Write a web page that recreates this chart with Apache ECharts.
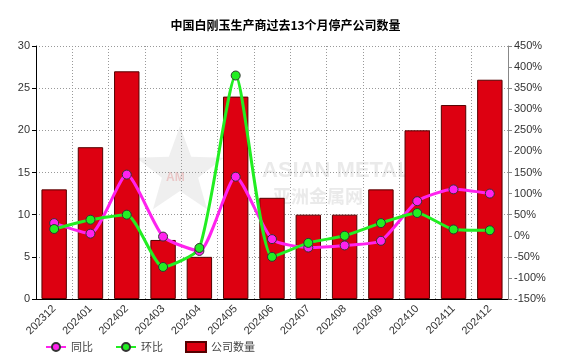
<!DOCTYPE html>
<html><head><meta charset="utf-8">
<script src="https://cdn.jsdelivr.net/npm/echarts@6/dist/echarts.min.js"></script>
<style>html,body{margin:0;padding:0;background:#fff}#c{width:571px;height:362px}</style>
</head><body><div id="c"></div>
<script>
const categories = ['202312','202401','202402','202403','202404','202405','202406','202407','202408','202409','202410','202411','202412'];
const companyCount = [13,18,27,7,5,24,12,10,10,13,20,23,26];
const yoy = [30,5,145,-2,-36,140,-8,-28,-23,-12,82,110,100];
const mom = [16,38,50,-74,-29,380,-50,-17,0,30,54,15,13];
const leftTicks = [0,5,10,15,20,25,30];
const rightTicks = [-150,-100,-50,0,50,100,150,200,250,300,350,400,450];

function starPoints(cx, cy, R, r){
  const pts=[];
  for(let i=0;i<10;i++){
    const a = -Math.PI/2 + i*Math.PI/5;
    const rad = i%2===0 ? R : r;
    pts.push([cx+rad*Math.cos(a), cy+rad*Math.sin(a)]);
  }
  return pts;
}

const chart = echarts.init(document.getElementById('c'));
const font = '"Liberation Sans", Arial, sans-serif';
chart.setOption({
  animation:false,
  title:{text:'中国白刚玉生产商过去13个月停产公司数量',left:'center',top:14,
    textStyle:{fontSize:12,fontWeight:'bold',color:'#000',fontFamily:'"Noto Sans CJK SC", sans-serif'}},
  grid:{left:36,right:63,top:46,bottom:63},
  legend:{bottom:4,left:40,itemGap:22,itemWidth:20,itemHeight:10,
    textStyle:{fontSize:11,color:'#444',fontFamily:'"Noto Sans CJK SC", sans-serif'},
    data:[{name:'同比'},{name:'环比'},{name:'公司数量',icon:'rect'}]},
  graphic:[
    {type:'polygon',z:-1,shape:{points:starPoints(180,172,46,19)},style:{fill:'rgba(190,190,190,0.25)'}},
    {type:'text',left:166,top:172,z:-1,style:{text:'AM',fill:'rgba(220,80,80,0.25)',font:'bold 12px "Liberation Sans", Arial'}},
    {type:'text',left:262,top:160,z:-1,style:{text:'ASIAN METAL',fill:'rgba(170,170,170,0.25)',font:'bold 22px "Liberation Sans", Arial'}},
    {type:'text',left:273,top:187,z:-1,style:{text:'亚洲金属网',fill:'rgba(170,170,170,0.25)',font:'bold 18px "Noto Sans CJK SC"'}}
  ],
  xAxis:{type:'category',data:categories,
    axisLine:{lineStyle:{color:'#000'}},
    axisTick:{alignWithLabel:true,length:4,lineStyle:{color:'#000'}},
    axisLabel:{rotate:45,fontSize:11,color:'#333',margin:8,fontFamily:font},
    splitLine:{show:true,lineStyle:{color:'#999',type:[1,2]}}},
  yAxis:[
    {type:'value',min:0,max:30,interval:5,
     axisLine:{show:true,lineStyle:{color:'#000'}},
     axisTick:{show:true,length:4,lineStyle:{color:'#000'}},
     axisLabel:{fontSize:11,color:'#333',margin:6,fontFamily:font},
     splitLine:{show:true,lineStyle:{color:'#999',type:[1,2]}}},
    {type:'value',min:-150,max:450,interval:50,
     axisLine:{show:true,lineStyle:{color:'#888'}},
     axisTick:{show:true,length:4,lineStyle:{color:'#888'}},
     axisLabel:{formatter:'{value}%',fontSize:11,color:'#333',margin:6,fontFamily:font},
     splitLine:{show:false}}
  ],
  series:[
    {name:'公司数量',type:'bar',data:companyCount,barWidth:'70%',
     itemStyle:{color:'#dd0011',borderColor:'#550000',borderWidth:1}},
    {name:'同比',type:'line',yAxisIndex:1,data:yoy,smooth:0.2,
     symbol:'circle',symbolSize:9,
     lineStyle:{color:'#ff22ee',width:3},
     itemStyle:{color:'#ff22ee',borderColor:'#333',borderWidth:1}},
    {name:'环比',type:'line',yAxisIndex:1,data:mom,smooth:0.2,
     symbol:'circle',symbolSize:9,
     lineStyle:{color:'#22ee22',width:3},
     itemStyle:{color:'#22ee22',borderColor:'#333',borderWidth:1}}
  ]
});
</script></body></html>
